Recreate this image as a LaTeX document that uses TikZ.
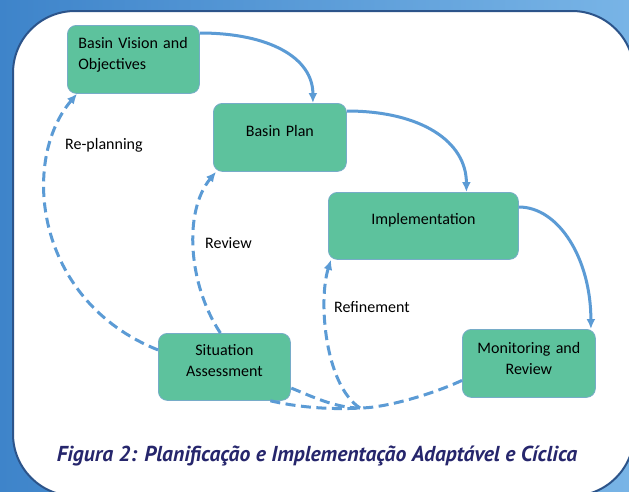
\documentclass[tikz,border=0pt]{standalone}
\usepackage{fontspec}
\setmainfont{Carlito}
\newfontfamily\captionfont{PT Sans}
\usetikzlibrary{arrows.meta}
\definecolor{boxgreen}{RGB}{93,194,157}
\definecolor{boxedge}{RGB}{118,172,200}
\definecolor{flowblue}{RGB}{91,155,213}
\definecolor{paneledge}{RGB}{44,84,138}
\definecolor{captionnavy}{RGB}{38,38,108}
\definecolor{bgdark}{RGB}{62,132,202}
\definecolor{bglight}{RGB}{120,180,230}
\begin{document}
\begin{tikzpicture}[x=1pt, y=-1pt,
    stage/.style={draw=boxedge, line width=0.8pt, fill=boxgreen, rounded corners=9pt,
        anchor=north west, inner xsep=0pt, inner ysep=0pt, align=center,
        font=\fontsize{16}{21.5}\selectfont},
    flow/.style={draw=flowblue, line width=3pt, -{Latex[length=10pt,width=9pt]}},
    feedback/.style={draw=flowblue, line width=3pt, dash pattern=on 10pt off 5.5pt},
    feedtip/.style={-{Latex[length=10pt,width=9pt]}},
    looplabel/.style={anchor=base west, inner sep=0pt, font=\fontsize{16}{19}\selectfont}]
    \useasboundingbox (0,0) rectangle (629,491);
    \clip (0,0) rectangle (629,491);
    \shade[left color=bgdark, right color=bglight] (0,0) rectangle (629,491);
    \draw[draw=paneledge, line width=2pt, fill=white, rounded corners=62pt] (13,11) rectangle (634,496);

    \draw (67,25) node[stage, text width=110pt, align=left, inner xsep=11pt,
        text height=23pt, text depth=45pt](vision){Basin Vision and\\Objectives};
    \draw (213,103) node[stage, text width=133pt, text height=33pt, text depth=35pt](plan){Basin Plan};
    \draw (328,192) node[stage, text width=190pt, text height=32pt, text depth=35pt](impl){Implementation};
    \draw (462,329) node[stage, text width=133pt, text height=24pt, text depth=44pt](monitor){Monitoring and\\Review};
    \draw (158,333) node[stage, text width=132pt, text height=22pt, text depth=45pt](situation){Situation\\Assessment};
    \coordinate (merge) at (360,408);

    \draw[flow] ([yshift=-8pt]vision.north east) .. controls +(70,0) and +(0,-45) .. ([xshift=33pt]plan.north);
    \draw[flow] ([yshift=-8pt]plan.north east) .. controls +(75,0) and +(0,-50) .. ([xshift=43pt]impl.north);
    \draw[flow] ([yshift=-15pt]impl.north east) .. controls +(40,0) and +(0,-70) .. ([xshift=62pt]monitor.north);

    \draw[feedback, feedtip] ([yshift=17pt]situation.west) .. controls +(-123,-49) and +(-57,67) .. ([xshift=10pt]vision.south west);
    \draw[feedback, feedtip] ([xshift=-4pt]situation.north) .. controls +(-32,-48) and +(-33,40) .. ([xshift=3pt]plan.south west);
    \draw[feedback, feedtip] (merge) .. controls +(-35,-23) and +(-13,41) .. ([xshift=3pt]impl.south west);
    \draw[feedback] ([yshift=-17pt]monitor.west) .. controls +(-30,14) and +(25,0) .. (merge);
    \draw[feedback] (merge) .. controls +(-25,0) and +(20,8) .. ([yshift=-21pt]situation.east);
    \draw[feedback] ([xshift=46pt]situation.south) .. controls +(25,6) and +(-30,2) .. (merge);

    \node[looplabel] (replan) at (65,149) {Re-planning};
    \node[looplabel] (review) at (205,248) {Review};
    \node[looplabel] (refine) at (334,312) {Refinement};

    \node[anchor=base, inner sep=0pt, text=captionnavy,
        font=\captionfont\bfseries\itshape\fontsize{21.6}{26}\selectfont] (caption) at (317,461)
        {Figura 2: Planificação e Implementação Adaptável e Cíclica};
\end{tikzpicture}
\end{document}
